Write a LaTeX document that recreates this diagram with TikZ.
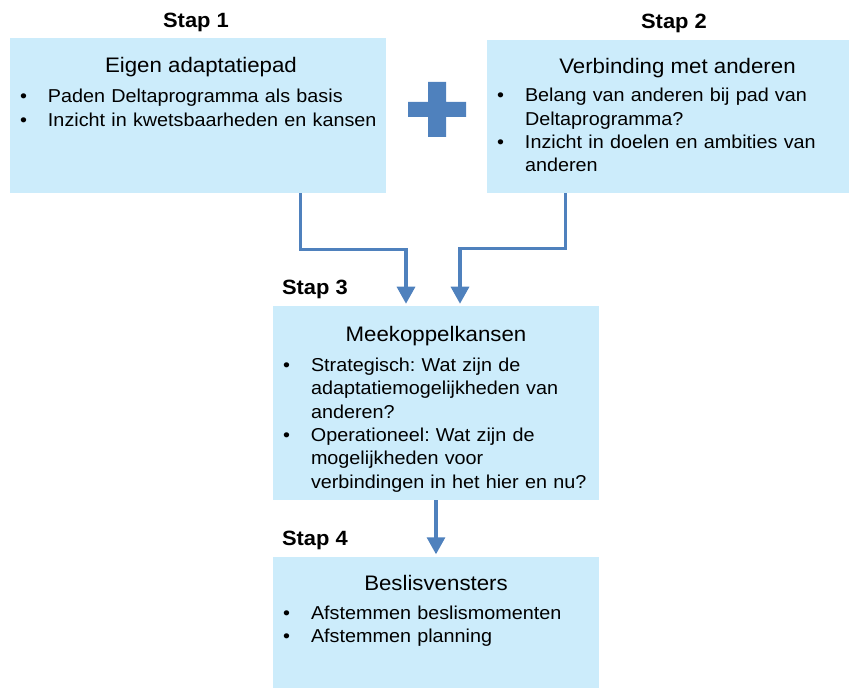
\documentclass[tikz,border=0pt]{standalone}
\usepackage{fontspec}
\setmainfont[FakeStretch=1.06]{Liberation Sans}
\usepackage{tikz}
\usetikzlibrary{positioning, calc, arrows.meta}

\definecolor{boxblue}{RGB}{204,236,251}
\definecolor{arrblue}{RGB}{79,129,189}

% bullet line with hanging indent
\newcommand{\bul}[1]{\noindent\hangindent=21pt\hangafter=1\makebox[21pt][l]{\textbullet}#1\par}

\begin{document}
\frenchspacing
\begin{tikzpicture}[x=0.75pt, y=-0.75pt, node distance=42pt]
        \tikzstyle{stepbox} = [rectangle, fill=boxblue, draw=none, inner sep=0pt]
        \tikzstyle{ttl} = [inner sep=0pt, anchor=base, font=\fontsize{15.75pt}{19pt}\selectfont]
        \tikzstyle{lst} = [inner sep=0pt, anchor=base west, align=left, text width=300pt, font=\fontsize{14pt}{17.5pt}\selectfont]
        \tikzstyle{stap} = [inner sep=0pt, font=\bfseries\fontsize{15.5pt}{18pt}\selectfont]
        \tikzstyle{arr} = [draw=arrblue, line width=2.4pt, -{Triangle[width=13.5pt, length=12.75pt]}, shorten >=1.5pt]

        \useasboundingbox (0,0) rectangle (853,688);

        % Step 1
        \node (box1) [stepbox, minimum width=282pt, minimum height=116.25pt] at (198,115.5) {};
        \node (stap1) [stap, anchor=base] at ($(box1.north) + (-2,-10)$) {Stap 1};
        \node (ttl1) [ttl] at ($(box1.north) + (3,35)$) {Eigen adaptatiepad};
        \node (lst1) [lst] at ($(box1.north west) + (10,65)$) {%
            \bul{Paden Deltaprogramma als basis}
            \bul{Inzicht in kwetsbaarheden en kansen}};

        % Step 2
        \node (box2) [stepbox, minimum width=271.5pt, minimum height=114.75pt] at (668,116.5) {};
        \node (stap2) [stap, anchor=base] at ($(box2.north) + (6,-11.7)$) {Stap 2};
        \node (ttl2) [ttl] at ($(box2.north) + (9.5,33.5)$) {Verbinding met anderen};
        \node (lst2) [lst] at ($(box2.north west) + (10,62)$) {%
            \bul{Belang van anderen bij pad van\newline Deltaprogramma?}
            \bul{Inzicht in doelen en ambities van\newline anderen}};

        % Plus
        \fill [arrblue] (408,102) -- (428,102) -- (428,82) -- (446,82) -- (446,102) -- (466,102)
            -- (466,117) -- (446,117) -- (446,137) -- (428,137) -- (428,117) -- (408,117) -- cycle;

        % Step 3
        \node (box3) [stepbox, minimum width=244.5pt, minimum height=145.5pt] at (436,403) {};
        \node (stap3) [stap, anchor=base west] at ($(box3.north west) + (9,-11)$) {Stap 3};
        \node (ttl3) [ttl] at ($(box3.north) + (0,35.7)$) {Meekoppelkansen};
        \node (lst3) [lst] at ($(box3.north west) + (10,65.7)$) {%
            \bul{Strategisch: Wat zijn de\newline adaptatiemogelijkheden van\newline anderen?}
            \bul{Operationeel: Wat zijn de\newline mogelijkheden voor\newline verbindingen in het hier en nu?}};

        % Step 4
        \node (box4) [stepbox, minimum width=244.5pt, minimum height=99pt, below=of box3] {};
        \node (stap4) [stap, anchor=base west] at ($(box4.north west) + (9,-10.3)$) {Stap 4};
        \node (ttl4) [ttl] at ($(box4.north) + (0,34)$) {Beslisvensters};
        \node (lst4) [lst] at ($(box4.north west) + (10,63)$) {%
            \bul{Afstemmen beslismomenten}
            \bul{Afstemmen planning}};

        % Connections
        \draw [arr] ($(box1.south) + (102.7,0)$) -- ++(0,56) -| ($(box3.north) + (-30,0)$);
        \draw [arr] ($(box2.south) + (-102.5,0)$) -- ++(0,55) -| ($(box3.north) + (24,0)$);
        \draw [arr] (box3.south) -- (box4.north);
\end{tikzpicture}
\end{document}
